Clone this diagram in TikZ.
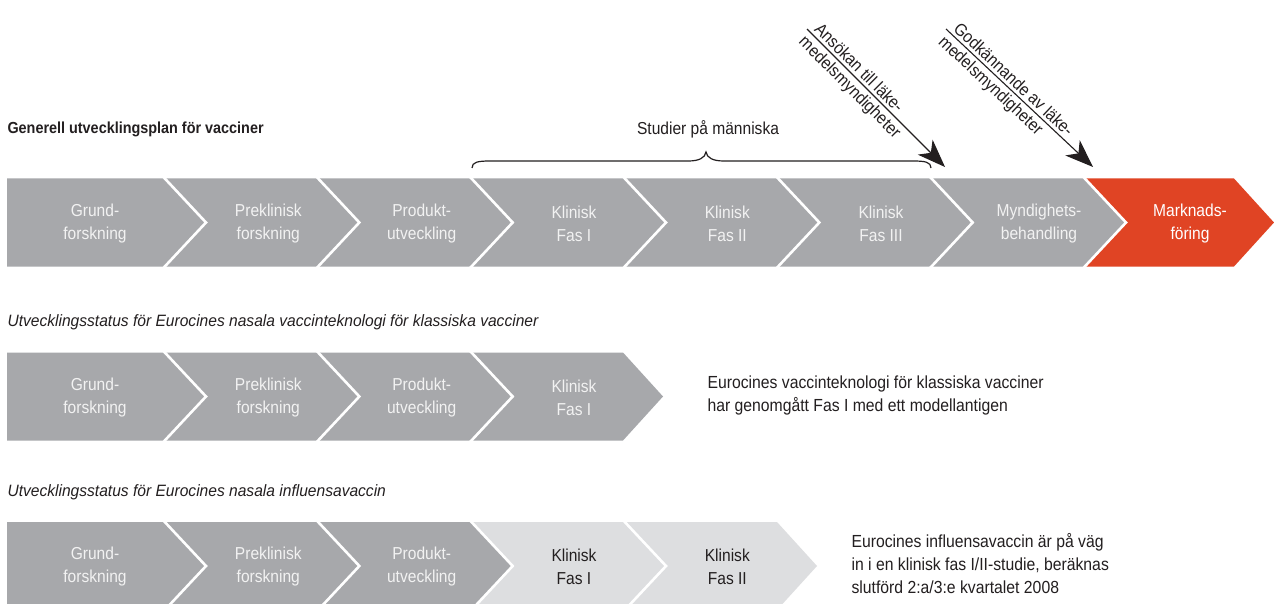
\documentclass[tikz,border=0pt]{standalone}
\usepackage{fontspec}
\setmainfont{Liberation Sans}[FakeStretch=0.9]
\newfontfamily\subfont{Liberation Sans}[FakeStretch=0.95]
\usetikzlibrary{arrows.meta}
\definecolor{cgrey}{RGB}{167,168,171}
\definecolor{clight}{RGB}{221,222,224}
\definecolor{cred}{RGB}{224,68,36}
\definecolor{ctext}{RGB}{35,31,32}
\definecolor{clab}{RGB}{242,242,242}
% #1 fill, #2 centre y, #3 left top x, #4 right top x, #5 left notch depth, #6 right tip depth
\newcommand{\chevseg}[6]{%
  \fill[#1] (#3,#2-44) -- (#4,#2-44) -- (#4+#6,#2) -- (#4,#2+44) -- (#3,#2+44) -- (#3+#5,#2) -- cycle;}
\newcommand{\chevgap}[2]{%
  \draw[white, line width=2.6pt] (#2-3,#1-47) -- (#2+41,#1) -- (#2-3,#1+47);}
\begin{document}
\begin{tikzpicture}[x=1pt,y=-1pt,
  lab/.style={align=center, text=clab, font=\fontsize{17.3}{23}\selectfont},
  labdark/.style={align=center, text=ctext, font=\fontsize{17.3}{23}\selectfont},
  head/.style={anchor=west, text=ctext, font=\bfseries\fontsize{16}{18}\selectfont},
  subhead/.style={anchor=west, text=ctext, font=\subfont\itshape\fontsize{16.4}{18}\selectfont},
  note/.style={anchor=west, align=left, text=ctext, font=\fontsize{17.5}{23}\selectfont},
  pointer/.style={draw=ctext, line width=1.1pt, -{Stealth[length=28pt,width=21pt,inset=8pt]}},
  tilted/.style={sloped, text=ctext, font=\fontsize{17.3}{20}\selectfont, inner sep=3pt},
  bracket/.style={draw=ctext, line width=1.2pt}]
\useasboundingbox (0,0) rectangle (1274,604);
\fill[white] (0,0) rectangle (1274,604);

% ---------- Row 1 ----------
\def\cy{222.5}
\chevseg{cgrey}{\cy}{7}{165}{0}{41}
\chevseg{cgrey}{\cy}{165}{318.33}{41}{41}
\chevseg{cgrey}{\cy}{318.33}{471.67}{41}{41}
\chevseg{cgrey}{\cy}{471.67}{625}{41}{41}
\chevseg{cgrey}{\cy}{625}{778.33}{41}{41}
\chevseg{cgrey}{\cy}{778.33}{931.67}{41}{41}
\chevseg{cgrey}{\cy}{931.67}{1085}{41}{41}
\chevseg{cred}{\cy}{1085}{1234}{41}{40}
\foreach \b in {165,318.33,471.67,625,778.33,931.67,1085} {\chevgap{\cy}{\b}}
\node[lab] (g1) at (95,\cy+1) {Grund-\\forskning};
\node[lab] (p1) at (268.3,\cy+1) {Preklinisk\\forskning};
\node[lab] (u1) at (421.7,\cy+1) {Produkt-\\utveckling};
\node[lab] (k1) at (574,\cy+1) {Klinisk\\Fas I};
\node[lab] (k2) at (727.3,\cy+1) {Klinisk\\Fas II};
\node[lab] (k3) at (881,\cy+1) {Klinisk\\Fas III};
\node[lab] (m1) at (1039,\cy+1) {Myndighets-\\behandling};
\node[lab, text=white] (mk) at (1190,\cy+1) {Marknads-\\föring};

\node[head] (t1) at (4,129) {Generell utvecklingsplan för vacciner};

% brace
\node[text=ctext, font=\fontsize{17.3}{20}\selectfont] (stud) at (708,129) {Studier på människa};
\coordinate (b1) at (472,168);
\coordinate (b2) at (931,168);
\coordinate (bt) at (706,152);
\draw[bracket] (b1) .. controls (472,162) and (478,161) .. (490,161) -- (688,161)
  .. controls (699,161) and (705,158) .. (bt)
  .. controls (707,158) and (713,161) .. (724,161) -- (913,161)
  .. controls (925,161) and (931,162) .. (b2);

% arrows
\coordinate (a1s) at (807,29);
\coordinate (a1e) at (945,167);
\coordinate (a2s) at (946,29);
\coordinate (a2e) at (1093,167);
\draw[pointer] (a1s) -- node[tilted, pos=0.01, anchor=south west] (a1t) {Ansökan till läke-}
  node[tilted, pos=0, anchor=north west] (a1u) {medelsmyndigheter} (a1e);
\draw[pointer] (a2s) -- node[tilted, pos=0.01, anchor=south west] (a2t) {Godkännande av läke-}
  node[tilted, pos=0, anchor=north west] (a2u) {medelsmyndigheter} (a2e);

% ---------- Row 2 ----------
\node[subhead] (t2) at (4,322) {Utvecklingsstatus för Eurocines nasala vaccinteknologi för klassiska vacciner};
\def\cy{396.5}
\chevseg{cgrey}{\cy}{7}{165}{0}{41}
\chevseg{cgrey}{\cy}{165}{318.33}{41}{41}
\chevseg{cgrey}{\cy}{318.33}{471.67}{41}{41}
\chevseg{cgrey}{\cy}{471.67}{623}{41}{40}
\foreach \b in {165,318.33,471.67} {\chevgap{\cy}{\b}}
\node[lab] (g2) at (95,\cy+1) {Grund-\\forskning};
\node[lab] (p2) at (268.3,\cy+1) {Preklinisk\\forskning};
\node[lab] (u2) at (421.7,\cy+1) {Produkt-\\utveckling};
\node[lab] (k21) at (574,\cy+1) {Klinisk\\Fas I};
\node[note] (n2) at (704,\cy-1) {Eurocines vaccinteknologi för klassiska vacciner\\har genomgått Fas I med ett modellantigen};

% ---------- Row 3 ----------
\node[subhead] (t3) at (4,492) {Utvecklingsstatus för Eurocines nasala influensavaccin};
\def\cy{566}
\chevseg{cgrey}{\cy}{7}{165}{0}{41}
\chevseg{cgrey}{\cy}{165}{318.33}{41}{41}
\chevseg{cgrey}{\cy}{318.33}{471.67}{41}{41}
\chevseg{clight}{\cy}{471.67}{625}{41}{41}
\chevseg{clight}{\cy}{625}{777}{41}{40}
\foreach \b in {165,318.33,471.67,625} {\chevgap{\cy}{\b}}
\node[lab] (g3) at (95,\cy+1) {Grund-\\forskning};
\node[lab] (p3) at (268.3,\cy+1) {Preklinisk\\forskning};
\node[lab] (u3) at (421.7,\cy+1) {Produkt-\\utveckling};
\node[labdark] (k31) at (574,\cy+1) {Klinisk\\Fas I};
\node[labdark] (k32) at (727.3,\cy+1) {Klinisk\\Fas II};
\node[note] (n3) at (848,\cy-2) {Eurocines influensavaccin är på väg\\in i en klinisk fas I/II-studie, beräknas\\slutförd 2:a/3:e kvartalet 2008};
\end{tikzpicture}
\end{document}
